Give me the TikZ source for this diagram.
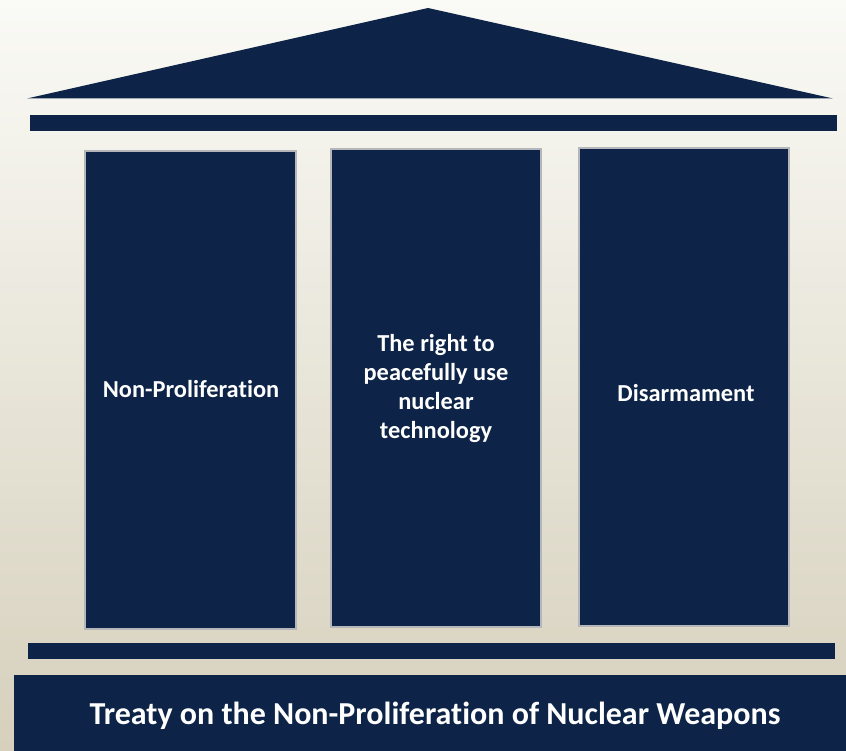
\documentclass[tikz,border=0pt]{standalone}
\usepackage{fontspec}
\setmainfont[Ligatures={NoCommon}]{Carlito}
\definecolor{navy}{HTML}{0D2448}
\definecolor{bgtop}{HTML}{FAFAF6}
\definecolor{bgbot}{HTML}{D6D0BC}
\definecolor{pillaredge}{HTML}{B4B6BA}
\begin{document}
\begin{tikzpicture}[x=1pt,y=-1pt,
  pillar/.style={fill=navy,draw=pillaredge,line width=2pt},
  pillartext/.style={text=white,font=\bfseries\fontsize{24.4}{29}\selectfont,align=center},
  banner/.style={text=white,font=\bfseries\fontsize{32}{38}\selectfont}]
  % background
  \shade[top color=bgtop,bottom color=bgbot,draw=none] (0,0) rectangle (846,751);
  \useasboundingbox (0,0) rectangle (846,751);
  % roof and entablature
  \fill[navy] (27,98.5) -- (428,8) -- (833,98.5) -- cycle;
  \fill[navy] (30,115) rectangle (837,131);
  % pillars
  \draw[pillar] (85,151) rectangle (296,629);
  \draw[pillar] (331,149) rectangle (541,627);
  \draw[pillar] (579,148) rectangle (789,626);
  \node[pillartext] (p1) at (191,389) {Non-Proliferation};
  \node[pillartext] (p2) at (436,389) {The right to\\peacefully use\\nuclear\\technology};
  \node[pillartext] (p3) at (686,393) {Disarmament};
  % base
  \fill[navy] (28,643) rectangle (835,659);
  \fill[navy] (14,675) rectangle (846,751);
  \node[banner] (title) at (435,716) {Treaty on the Non-Proliferation of Nuclear Weapons};
\end{tikzpicture}
\end{document}
